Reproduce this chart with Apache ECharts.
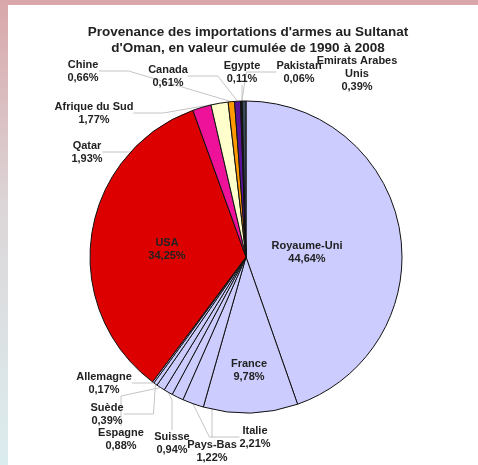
<!DOCTYPE html>
<html>
<head>
<meta charset="utf-8">
<script src="https://cdn.jsdelivr.net/npm/echarts@6/dist/echarts.min.js"></script>
<style>
  html, body { margin: 0; padding: 0; background: #fff; }
  #frameTop { position: absolute; left: 0; top: 0; width: 478px; height: 5px; background: #d9a7aa; }
  #frameLeft { position: absolute; left: 0; top: 0; width: 8px; height: 465px;
    background: linear-gradient(#d9a7aa, #dcd6d8 45%, #dcedef); }
  #chart { position: absolute; left: 0; top: 0; width: 478px; height: 465px; }
</style>
</head>
<body>
<div id="frameTop"></div>
<div id="frameLeft"></div>
<div id="chart"></div>
<script>
// pays fournisseurs, dans l'ordre horaire depuis midi
const countries = [
  'Royaume-Uni', 'France', 'Italie', 'Pays-Bas', 'Suisse', 'Espagne', 'Suède', 'Allemagne',
  'USA', 'Qatar', 'Afrique du Sud', 'Chine', 'Canada', 'Egypte', 'Pakistan', 'Emirats Arabes Unis'
]
// part en % de la valeur cumulée
const shares = [44.64, 9.78, 2.21, 1.22, 0.94, 0.88, 0.39, 0.17, 34.25, 1.93, 1.77, 0.66, 0.61, 0.11, 0.06, 0.39]

const colors = [
  '#ccccff', '#ccccff', '#ccccff', '#ccccff', '#ccccff', '#ccccff', '#ccccff', '#ccccff',
  '#dd0000', '#ee1199', '#ffffcc', '#ff9900', '#5a129a', '#222222', '#111111', '#3a4a5a'
]
// label centres (placed by hand like in the Excel original)
const labelPos = [
  [307, 252], [249, 370], [255, 437], [212, 451], [172, 443], [121, 439], [107, 414], [104, 383],
  [167, 249], [87, 152], [94, 113], [83, 71], [168, 76], [242, 72], [299, 72], [357, 74]
]
const noLine = ['Royaume-Uni', 'France', 'USA', 'Emirats Arabes Unis']

const chart = echarts.init(document.getElementById('chart'))

const fmt = (v) => v.toFixed(2).replace('.', ',') + '%'

chart.setOption({
  animation: false,
  title: {
    text: "Provenance des importations d'armes au Sultanat\nd'Oman, en valeur cumulée de 1990 à 2008",
    left: 243,
    top: 19,
    textAlign: 'center',
    textStyle: {
      fontFamily: 'Liberation Sans, Arial, sans-serif',
      fontSize: 13.5,
      fontWeight: 'bold',
      color: '#222',
      lineHeight: 16
    }
  },
  series: [
    {
      type: 'pie',
      center: [246, 257],
      radius: 156,
      startAngle: 90,
      clockwise: true,
      avoidLabelOverlap: false,
      itemStyle: {
        borderColor: '#111',
        borderWidth: 1
      },
      label: {
        fontFamily: 'Liberation Sans, Arial, sans-serif',
        fontSize: 11,
        fontWeight: 'bold',
        color: '#222',
        lineHeight: 13,
        align: 'center',
        formatter: (p) => p.name.replace('Arabes ', 'Arabes\n') + '\n' + fmt(p.value)
      },
      labelLine: {
        show: true,
        lineStyle: { color: '#c4c4c4', width: 1 }
      },
      labelLayout: (params) => {
        const pos = labelPos[params.dataIndex]
        return {
          x: pos[0],
          y: pos[1],
          align: 'center',
          verticalAlign: 'middle'
        }
      },
      data: countries.map((name, i) => ({
        name: name,
        value: shares[i],
        itemStyle: { color: colors[i] },
        labelLine: { show: !noLine.includes(name) }
      }))
    }
  ]
})
</script>
</body>
</html>
